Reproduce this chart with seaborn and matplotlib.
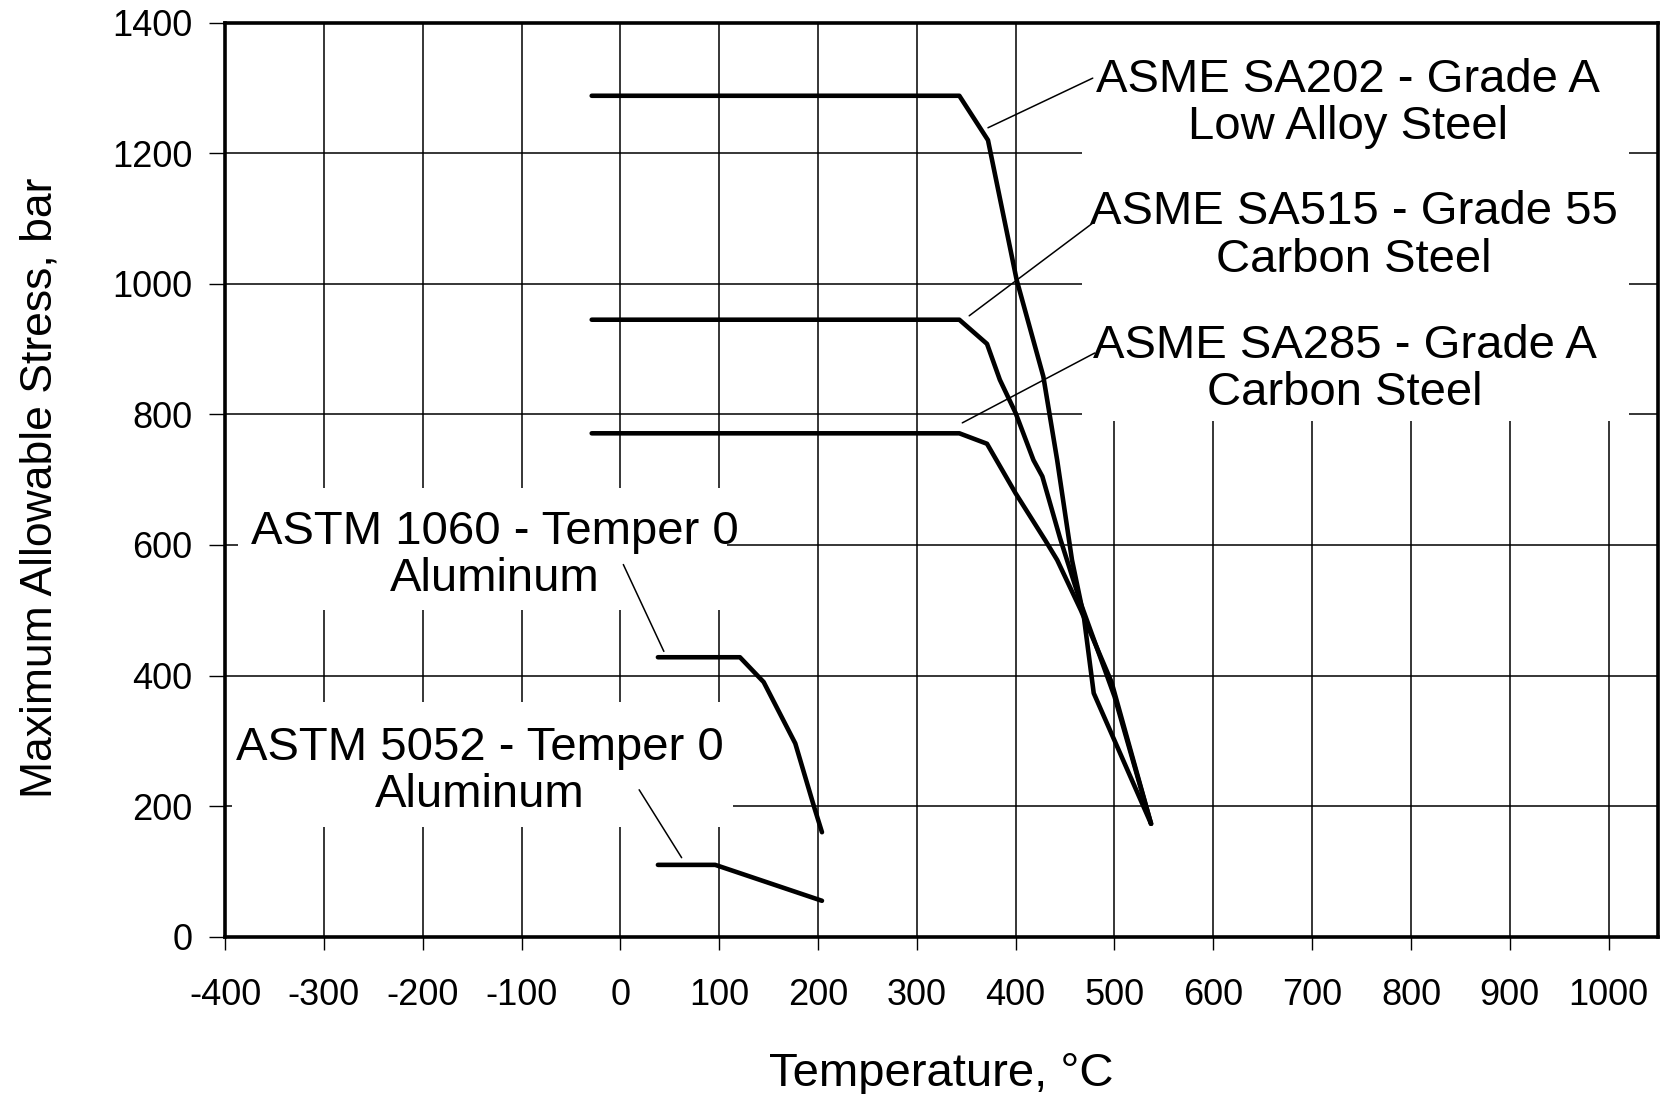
import matplotlib
matplotlib.use("Agg")
import matplotlib.pyplot as plt
from matplotlib.patches import Rectangle
import pandas as pd
import seaborn as sns

# values (temperature in C, stress in bar)
sa202_t = [-29, 343, 372, 401, 428, 442, 457, 469, 479, 537]
sa202_s = [1288, 1288, 1220, 1006, 858, 730, 577, 490, 373, 173]

sa515_t = [-29, 343, 371, 384, 400, 418, 427, 445, 466, 500, 537]
sa515_s = [945, 945, 908, 853, 802, 730, 705, 610, 510, 368, 173]

sa285_t = [-29, 343, 371, 400, 430, 442, 466, 497, 537]
sa285_s = [771, 771, 755, 679, 607, 577, 500, 390, 173]

al1060_t = [38, 121, 145, 177, 196, 204]
al1060_s = [428, 428, 390, 296, 199, 160]

al5052_t = [38, 96, 204]
al5052_s = [110, 110, 55]

materials = ["SA202", "SA515", "SA285", "1060", "5052"]
labels = ["ASME SA202 - Grade A\nLow Alloy Steel",
          "ASME SA515 - Grade 55\nCarbon Steel",
          "ASME SA285 - Grade A\nCarbon Steel",
          "ASTM 1060 - Temper 0\nAluminum",
          "ASTM 5052 - Temper 0\nAluminum"]
label_xy = [(736, 1276), (742, 1073), (733, 869), (-127, 584), (-142, 253)]
leaders = [((478, 1315), (372, 1239)),
           ((478, 1093), (353, 951)),
           ((480, 894), (346, 787)),
           ((3, 570), (44, 437)),
           ((19, 225), (62, 121))]
# white areas behind the labels that cut the grid (x0, x1, y0, y1)
blanks = [(467, 1021, 790, 1400), (-387, 108, 500, 687), (-393, 114, 168, 360)]

rows = []
for name, t, s in zip(materials,
                      [sa202_t, sa515_t, sa285_t, al1060_t, al5052_t],
                      [sa202_s, sa515_s, sa285_s, al1060_s, al5052_s]):
    for a, b in zip(t, s):
        rows.append({"material": name, "temp": a, "stress": b})
df = pd.DataFrame(rows)

sns.set_theme(style="white")
plt.rcParams["font.family"] = ["Liberation Sans", "DejaVu Sans"]
plt.rcParams["axes.unicode_minus"] = False

fig = plt.figure(figsize=(16.66, 10.94), dpi=100)
ax = fig.add_axes([0.1351, 0.1438, 0.8601, 0.8355])

sns.lineplot(data=df, x="temp", y="stress", hue="material", units="material",
             estimator=None, sort=False, palette=["black"] * 5, legend=False,
             lw=3.3, ax=ax, zorder=4)

for x0, x1, y0, y1 in blanks:
    ax.add_patch(Rectangle((x0, y0), x1 - x0, y1 - y0, fc="white", ec="none", zorder=2))

for (x1, y1), (x2, y2) in leaders:
    ax.plot([x1, x2], [y1, y2], color="black", lw=1.1, zorder=5)

for txt, (x, y) in zip(labels, label_xy):
    ax.text(x, y, txt, ha="center", va="center", multialignment="center",
            fontsize=34, linespacing=1.1, color="black", zorder=3)

ax.set_xlim(-400, 1050)
ax.set_ylim(0, 1400)
ax.set_xticks(range(-400, 1001, 100))
ax.set_yticks(range(0, 1401, 200))
ax.grid(True, color="black", lw=1.1)
ax.set_axisbelow(True)

for sp in ax.spines.values():
    sp.set_color("black")
    sp.set_linewidth(2.6)
    sp.set_zorder(6)

ax.tick_params(axis="x", bottom=True, direction="out", length=9.5, width=1,
               pad=20, labelsize=26, colors="black")
ax.tick_params(axis="y", left=True, direction="out", length=11.5, width=1,
               pad=12, labelsize=26, colors="black")

ax.set_xlabel("Temperature, °C", fontsize=34, color="black")
ax.set_ylabel("Maximum Allowable Stress, bar", fontsize=32, color="black")
ax.xaxis.set_label_coords(0.5, -0.150)
ax.xaxis.label.set_va("center")
ax.yaxis.set_label_coords(-0.129, 0.491)
ax.yaxis.label.set_va("center")

fig.savefig("out.png", dpi=100, facecolor="white")
